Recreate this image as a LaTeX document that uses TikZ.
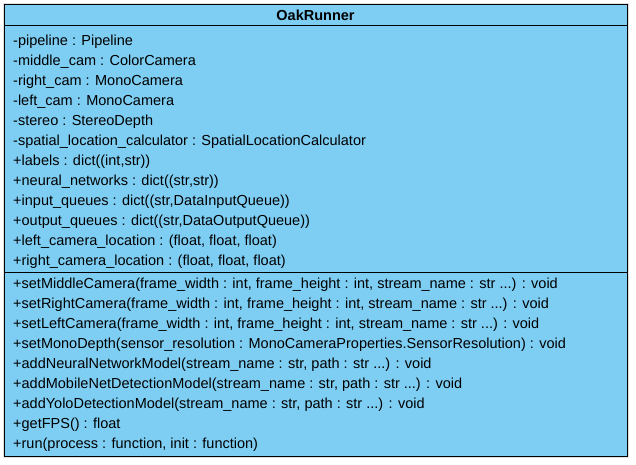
\documentclass[tikz,border=0pt]{standalone}
\usepackage{fontspec}
\setmainfont{Liberation Sans}
\definecolor{classfill}{RGB}{126,206,244}
\tikzset{
  member/.style={anchor=base west,inner sep=0pt,font=\fontsize{14.5}{17}\selectfont},
  classname/.style={anchor=base,inner sep=0pt,font=\fontsize{14.5}{17}\selectfont\bfseries}
}

\begin{document}
\begin{tikzpicture}[x=1pt,y=-1pt]
\useasboundingbox (0,0) rectangle (636,464);
            % Class box
\fill[black!12] (3,3) rectangle (629,458);
\filldraw[fill=classfill,draw=black,line width=1pt] (4,4) rectangle (627,456);
\draw[line width=1pt] (4,25) -- (627,25);
\draw[line width=1pt] (4,272) -- (627,272);
%Name
\node[classname] (name) at (315.5,20) {OakRunner};
%Attributes
\node[member] (pipeline) at (13,45) {-pipeline : Pipeline};
\node[member] (middlecam) at (13,65) {-middle\_cam : ColorCamera};
\node[member] (rightcam) at (13,85) {-right\_cam : MonoCamera};
\node[member] (leftcam) at (13,105) {-left\_cam : MonoCamera};
\node[member] (stereo) at (13,125) {-stereo : StereoDepth};
\node[member] (spatial) at (13,145) {-spatial\_location\_calculator : SpatialLocationCalculator};
\node[member] (labels) at (13,165) {+labels : dict((int,str))};
\node[member] (networks) at (13,185) {+neural\_networks : dict((str,str))};
\node[member] (inqueues) at (13,205) {+input\_queues : dict((str,DataInputQueue))};
\node[member] (outqueues) at (13,225) {+output\_queues : dict((str,DataOutputQueue))};
\node[member] (leftloc) at (13,245) {+left\_camera\_location : (float, float, float)};
\node[member] (rightloc) at (13,265) {+right\_camera\_location : (float, float, float)};
%Operations
\node[member] (setmiddle) at (13,288) {+setMiddleCamera(frame\_width : int, frame\_height : int, stream\_name : str ...) : void};
\node[member] (setright) at (13,308) {+setRightCamera(frame\_width : int, frame\_height : int, stream\_name : str ...) : void};
\node[member] (setleft) at (13,328) {+setLeftCamera(frame\_width : int, frame\_height : int, stream\_name : str ...) : void};
\node[member] (setdepth) at (13,348) {+setMonoDepth(sensor\_resolution : MonoCameraProperties.SensorResolution) : void};
\node[member] (addneural) at (13,368) {+addNeuralNetworkModel(stream\_name : str, path : str ...) : void};
\node[member] (addmobile) at (13,388) {+addMobileNetDetectionModel(stream\_name : str, path : str ...) : void};
\node[member] (addyolo) at (13,408) {+addYoloDetectionModel(stream\_name : str, path : str ...) : void};
\node[member] (getfps) at (13,428) {+getFPS() : float};
\node[member] (run) at (13,448) {+run(process : function, init : function)};

          \end{tikzpicture}
\end{document}
